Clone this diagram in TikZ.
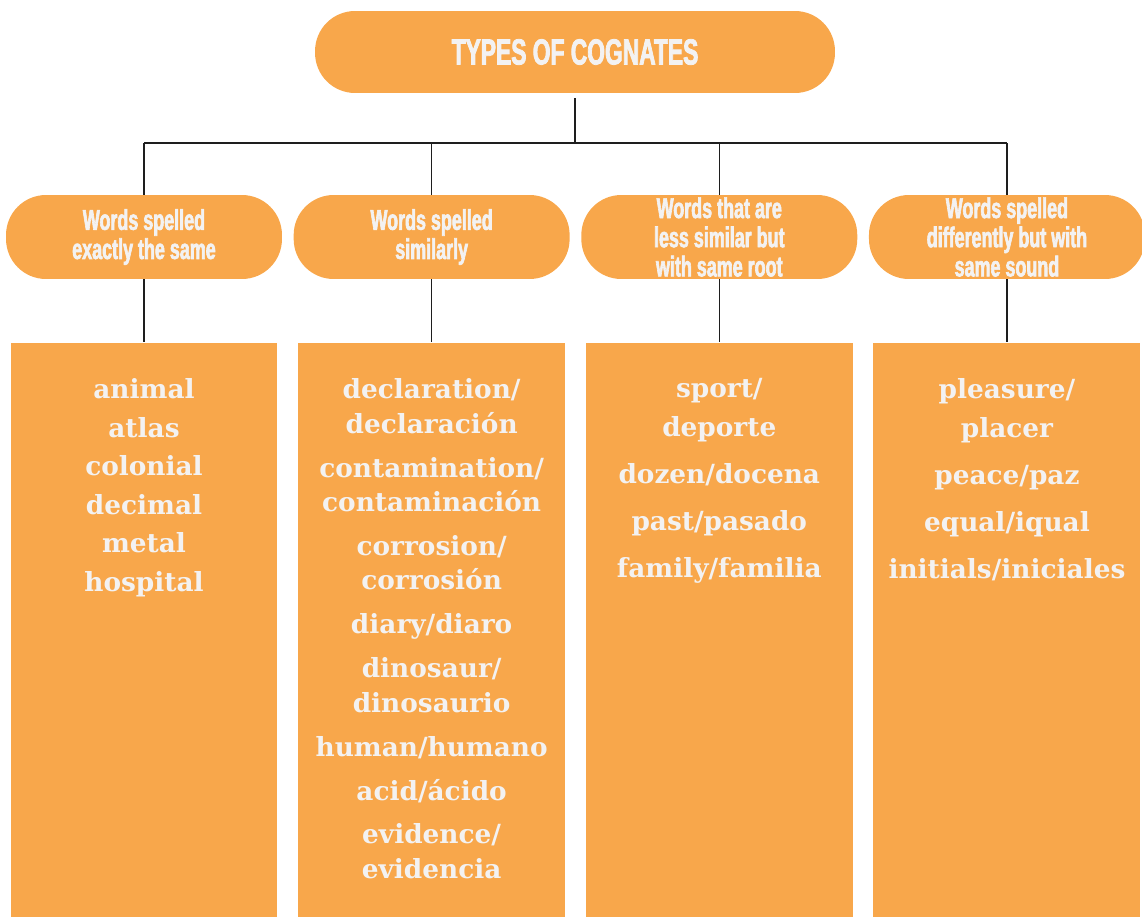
\documentclass[tikz,border=0pt]{standalone}
\usepackage{fontspec}
\setmainfont{DejaVu Serif}
\newfontfamily\capfont{Liberation Sans}[FakeStretch=0.63, BoldFeatures={FakeBold=2.2}]
\usepackage{xcolor}
\usetikzlibrary{positioning}

\definecolor{cogorange}{HTML}{F8A74B}
\definecolor{cogtext}{HTML}{F3F2F2}
\definecolor{cogline}{HTML}{1E1E1E}

% top-aligned list of examples inside a column box
\newcommand{\wordlist}[2]{\parbox[c][11.48cm][t]{5.34cm}{\centering\fontsize{15}{#1}\selectfont\vspace*{0.72cm}#2}}

\begin{document}
\begin{tikzpicture}[
    x=0.02cm, y=-0.02cm,
    node distance=1.26cm and 0.22cm,
    headpill/.style={rectangle, fill=cogorange, rounded corners=0.8cm, minimum width=10.4cm, minimum height=1.64cm, inner sep=0pt, text=cogtext, font=\capfont\bfseries\fontsize{20.6}{22}\selectfont},
    pill/.style={rectangle, fill=cogorange, rounded corners=0.8cm, minimum width=5.52cm, minimum height=1.68cm, inner sep=0pt, align=center, text=cogtext, font=\capfont\bfseries\fontsize{16.2}{16.6}\selectfont},
    wordbox/.style={rectangle, fill=cogorange, inner sep=0pt, text=cogtext, font=\bfseries},
    link/.style={draw=cogline, line width=0.9pt}
]
    \useasboundingbox (0,0) rectangle (1142,916);

    % Title
    \node (types) [headpill] at (575,52) {TYPES OF COGNATES};
    \coordinate (bus) at (575,143);

    % Categories
    \node (same) [pill] at (144,237) {Words spelled\\exactly the same};
    \node (similar) [pill, right=of same] {Words spelled\\similarly};
    \node (root) [pill, right=of similar] {Words that are\\less similar but\\with same root};
    \node (sound) [pill, right=of root] {Words spelled\\differently but with\\same sound};

    % Example columns
    \node (same_box) [wordbox, below=of same] {\wordlist{21.9pt}{animal\\atlas\\colonial\\decimal\\metal\\hospital}};
    \node (similar_box) [wordbox, below=of similar] {\wordlist{19.6pt}{declaration/\\declaración\\[0.19cm]contamination/\\contaminación\\[0.19cm]corrosion/\\corrosión\\[0.19cm]diary/diaro\\[0.19cm]dinosaur/\\dinosaurio\\[0.19cm]human/humano\\[0.19cm]acid/ácido\\[0.19cm]evidence/\\evidencia}};
    \node (root_box) [wordbox, below=of root] {\wordlist{22.2pt}{sport/\\deporte\\[0.16cm]dozen/docena\\[0.16cm]past/pasado\\[0.16cm]family/familia}};
    \node (sound_box) [wordbox, below=of sound] {\wordlist{22.2pt}{pleasure/\\placer\\[0.16cm]peace/paz\\[0.16cm]equal/iqual\\[0.16cm]initials/iniciales}};

    % Connectors
    \draw [link, shorten <=0.1cm] (types.south) -- (bus);
    \draw [link] (bus -| same.north) -- (bus -| sound.north);
    \foreach \k in {same,similar,root,sound} {
        \draw [link] (bus -| \k.north) -- (\k.north);
        \draw [link] (\k.south) -- (\k_box.north);
    }
\end{tikzpicture}
\end{document}
